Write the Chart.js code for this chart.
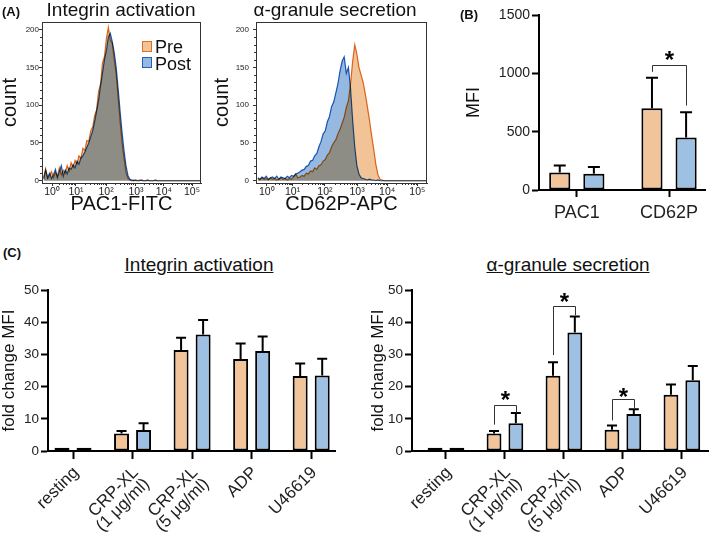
<!DOCTYPE html>
<html><head><meta charset="utf-8">
<script src="https://cdn.jsdelivr.net/npm/chart.js@4.4.1/dist/chart.umd.min.js"></script>
<style>
html,body{margin:0;padding:0;background:#fff;}
body{width:709px;height:535px;position:relative;overflow:hidden;font-family:"Liberation Sans",Arial,Helvetica,sans-serif;color:#111;}
canvas{position:absolute;}
.t{position:absolute;white-space:nowrap;line-height:1;}
.lbl{font-weight:bold;font-size:13px;}
.ttl{font-size:19px;text-align:center;}
.sw{position:absolute;width:8px;height:9px;border:1.5px solid;}
</style></head><body>
<canvas id="a1" width="230" height="214" style="left:0;top:0"></canvas>
<canvas id="a2" width="218" height="214" style="left:212px;top:0"></canvas>
<canvas id="b" width="244" height="225" style="left:465px;top:0"></canvas>
<canvas id="c1" width="340" height="255" style="left:0;top:280px"></canvas>
<canvas id="c2" width="339" height="255" style="left:370px;top:280px"></canvas>

<div class="t lbl" style="left:2px;top:5px">(A)</div>
<div class="t ttl" style="left:21px;width:200px;top:0">Integrin activation</div>
<div class="t ttl" style="left:235px;width:200px;top:0">α-granule secretion</div>
<div class="sw" style="left:142px;top:41px;background:#F2C397;border-color:#E07020"></div>
<div class="t" style="left:155px;top:38px;font-size:18px">Pre</div>
<div class="sw" style="left:142px;top:57px;background:#96B9E1;border-color:#1F5FBF"></div>
<div class="t" style="left:155px;top:55px;font-size:18px">Post</div>
<div class="t lbl" style="left:460px;top:8px">(B)</div>
<div class="t lbl" style="left:3px;top:246px">(C)</div>
<div class="t ttl" style="left:99px;width:200px;top:255px;text-decoration:underline">Integrin activation</div>
<div class="t ttl" style="left:468px;width:200px;top:255px;text-decoration:underline">α-granule secretion</div>

<script>
// ================= DATA =================
// Panel A: flow histograms (x = display position in decades, biexponential axis)
const histBins = [-0.30,-0.23,-0.16,-0.09,-0.02,0.05,0.12,0.19,0.26,0.33,0.40,0.47,0.54,0.61,0.68,0.75,0.82,0.89,0.96,1.03,
  1.10,1.17,1.24,1.31,1.38,1.45,1.52,1.59,1.66,1.73,1.80,1.87,1.94,2.01,2.08,2.15,2.22,2.29,2.36,2.43,
  2.50,2.57,2.64,2.71,2.78,2.85,2.92,2.99,3.06,3.13,3.20,3.27,3.34,3.41,3.48,3.55,3.62,3.69,3.76,3.83,3.90,4.60,5.30];
const pacPre = [4,16,3,7,12,4,11,6,17,8,14,10,20,13,
  24,18,27,22,33,30,43,40,53,52,66,71,86,94,118,128,
  156,164,188,203,186,182,160,141,110,78,50,30,11,3,1,
  0,1,0,0,1,0,0,0,0,0,0,0,0,0,0,0, 0,0];
const pacPost = [2,14,4,10,3,8,15,4,12,20,6,14,9,17,
  15,21,17,26,22,30,33,38,44,50,58,66,78,92,106,125,
  142,160,172,190,195,184,170,150,122,92,64,40,20,7,2,
  1,0,1,0,0,1,0,0,1,0,0,0,1,0,0,0, 0,0];
const cdPre = [3,1,4,2,3,1,4,2,3,1,2,4,2,3,1,3,2,5,9,
  4,5,7,6,10,9,13,12,17,15,20,21,26,28,34,37,45,
  50,54,62,68,76,84,97,106,128,158,180,168,150,140,130,
  115,98,80,60,42,22,8,2,1,0, 0,0];
const cdPost = [4,2,5,3,6,2,4,5,3,6,2,5,4,3,6,4,7,6,9,
  10,12,14,15,19,20,26,27,33,36,45,52,62,66,78,85,98,
  104,116,128,145,158,164,142,150,122,80,45,20,9,4,3,
  2,1,2,1,1,0,1,0,0,0, 0,0];
const decadePos = [0, 0.854, 1.93, 2.997, 3.997, 5.0];
const decadeLabels = ['10⁰','10¹','10²','10³','10⁴','10⁵'];
const countTicks = [0, 50, 100, 150, 200];

// Panel B: MFI
const bCategories = ['PAC1', 'CD62P'];
const bPre = [150, 700];
const bPreErr = [209, 962];
const bPost = [140, 450];
const bPostErr = [198, 667];
const bSigCats = [1];
const bSigLeft = [1013];
const bSigTop = [1075];
const bSigRight = [724];
const bSigStar = [1155];

// Panel C: fold change MFI
const cCategories = [['resting'], ['CRP-XL', '(1 μg/ml)'], ['CRP-XL', '(5 μg/ml)'], ['ADP'], ['U46619']];
const c1Pre = [1, 5.4, 31.4, 28.6, 23.3];
const c1PreErr = [null, 6.2, 35.2, 33.4, 27.2];
const c1Post = [1, 6.5, 36.2, 31.1, 23.5];
const c1PostErr = [null, 8.6, 40.7, 35.6, 28.7];
const c2Pre = [1, 5.4, 23.4, 6.6, 17.5];
const c2PreErr = [null, 6.2, 27.6, 7.9, 20.7];
const c2Post = [1, 8.6, 36.8, 11.5, 22.0];
const c2PostErr = [null, 11.8, 41.8, 13.0, 26.4];
const c2SigCats = [1, 2, 3];
const c2SigLeft = [8.2, 29.8, 9.5];
const c2SigTop = [14.3, 45.2, 16.3];
const c2SigRight = [11.9, 42.2, 13.4];
const c2SigStar = [17.1, 47.6, 18.3];

// ================= STYLE =================
const FONT = '"Liberation Sans", Arial, Helvetica, sans-serif';
Chart.defaults.font.family = FONT;
Chart.defaults.color = '#222';
const ORANGE_LINE = '#E07020', BLUE_LINE = '#1F5FBF';
const ORANGE_FILL = '#F2C397', BLUE_FILL = '#96B9E1';
const BAR_ORANGE = '#F1C499', BAR_BLUE = '#9DC0E3';

const multiplyPlugin = {
  id: 'mult',
  beforeDatasetsDraw(c) { c.ctx.save(); c.ctx.globalCompositeOperation = 'multiply'; },
  afterDatasetsDraw(c) { c.ctx.restore(); }
};
const framePlugin = {
  id: 'frame',
  afterDatasetsDraw(c) {
    const {ctx, chartArea: a, scales} = c;
    ctx.save();
    ctx.strokeStyle = '#333'; ctx.lineWidth = 1;
    ctx.strokeRect(a.left + 0.5, a.top + 0.5, a.right - a.left - 1, a.bottom - a.top);
    ctx.beginPath();
    for (let v = 10; v <= 200; v += 10) {
      if (v % 50 === 0) continue;
      const y = Math.round(scales.y.getPixelForValue(v)) + 0.5;
      ctx.moveTo(a.left, y); ctx.lineTo(a.left - 2, y);
    }
    for (let k = 0; k < decadePos.length - 1; k++) {
      for (let m = 2; m <= 9; m++) {
        const p = decadePos[k] + Math.log10(m) * (decadePos[k + 1] - decadePos[k]);
        const x = Math.round(scales.x.getPixelForValue(p)) + 0.5;
        ctx.moveTo(x, a.bottom); ctx.lineTo(x, a.bottom + 2);
      }
    }
    ctx.stroke();
    ctx.restore();
  }
};

function histChart(id, pre, post, xTitle, yWidth, padRight, tickPad) {
  return new Chart(document.getElementById(id), {
    type: 'line',
    data: {
      datasets: [
        { label: 'Pre', data: histBins.map((b, i) => ({x: b, y: pre[i]})), borderColor: ORANGE_LINE,
          backgroundColor: ORANGE_FILL, fill: 'origin', borderWidth: 1.2, pointRadius: 0, tension: 0 },
        { label: 'Post', data: histBins.map((b, i) => ({x: b, y: post[i]})), borderColor: BLUE_LINE,
          backgroundColor: BLUE_FILL, fill: 'origin', borderWidth: 1.2, pointRadius: 0, tension: 0 }
      ]
    },
    options: {
      responsive: false, animation: false, events: [],
      layout: { padding: { left: 0, top: 22, right: padRight, bottom: 0 } },
      plugins: { legend: { display: false }, title: { display: false }, tooltip: { enabled: false } },
      scales: {
        x: {
          type: 'linear', min: -0.36, max: 5.32,
          afterBuildTicks: s => { s.ticks = decadePos.map(v => ({value: v})); },
          afterFit: s => { s.height = 31; },
          ticks: { callback: (v, i) => decadeLabels[i], font: { size: 10.5 }, color: '#222', padding: 0, maxRotation: 0, autoSkip: false },
          grid: { display: true, drawOnChartArea: false, tickLength: 3, tickColor: '#333' },
          border: { display: true, color: '#333', width: 1 },
          title: { display: true, text: xTitle, font: { size: 20, lineHeight: 1 }, color: '#111', padding: 0 }
        },
        y: {
          min: -3, max: 210,
          afterBuildTicks: s => { s.ticks = countTicks.map(v => ({value: v})); },
          afterFit: s => { s.width = yWidth; },
          ticks: { font: { size: 8 }, color: '#222', padding: tickPad },
          grid: { display: true, drawOnChartArea: false, tickLength: 3, tickColor: '#333' },
          border: { display: true, color: '#333', width: 1 },
          title: { display: true, text: 'count', font: { size: 20, lineHeight: 1 }, color: '#111', padding: 0 }
        }
      }
    },
    plugins: [multiplyPlugin, framePlugin]
  });
}

histChart('a1', pacPre, pacPost, 'PAC1-FITC', 42, 29, 0);
histChart('a2', cdPre, cdPost, 'CD62P-APC', 44, 3, 4);

// ---------- Bar charts ----------
const errPlugin = {
  id: 'err',
  afterDatasetsDraw(chart, args, opts) {
    const {ctx} = chart;
    const y = chart.scales.y;
    ctx.save();
    ctx.strokeStyle = '#000'; ctx.lineWidth = opts.lw; ctx.lineCap = 'butt';
    chart.data.datasets.forEach((ds, di) => {
      const meta = chart.getDatasetMeta(di);
      ds.errTop.forEach((e, j) => {
        if (e == null) return;
        const bar = meta.data[j];
        const yT = y.getPixelForValue(e);
        ctx.beginPath();
        ctx.moveTo(bar.x, bar.y); ctx.lineTo(bar.x, yT);
        ctx.moveTo(bar.x - opts.cap / 2, yT); ctx.lineTo(bar.x + opts.cap / 2, yT);
        ctx.stroke();
      });
    });
    ctx.restore();
    const sig = opts.sig;
    if (!sig) return;
    const m0 = chart.getDatasetMeta(0), m1 = chart.getDatasetMeta(1);
    ctx.save();
    ctx.strokeStyle = '#333'; ctx.lineWidth = 1;
    ctx.fillStyle = '#000';
    ctx.font = 'bold ' + opts.star + 'px ' + FONT;
    ctx.textAlign = 'center'; ctx.textBaseline = 'alphabetic';
    const mt = ctx.measureText('*');
    sig.cats.forEach((cat, k) => {
      const xl = Math.round(m0.data[cat].x) + 0.5, xr = Math.round(m1.data[cat].x) + 0.5;
      const yt = Math.round(y.getPixelForValue(sig.top[k])) + 0.5;
      ctx.beginPath();
      ctx.moveTo(xl, y.getPixelForValue(sig.left[k])); ctx.lineTo(xl, yt);
      ctx.lineTo(xr, yt); ctx.lineTo(xr, y.getPixelForValue(sig.right[k]));
      ctx.stroke();
      const cy = y.getPixelForValue(sig.star[k]);
      const base = cy - (mt.actualBoundingBoxDescent - mt.actualBoundingBoxAscent) / 2;
      ctx.fillText('*', (xl + xr) / 2, base);
    });
    ctx.restore();
  }
};

// rotated category labels positioned from the x scale
const rotLabelPlugin = {
  id: 'rotlab',
  afterDraw(chart, args, opts) {
    if (!opts.on) return;
    const {ctx} = chart;
    const xs = chart.scales.x;
    const axisY = chart.chartArea.bottom;
    ctx.save();
    ctx.font = opts.size + 'px ' + FONT;
    ctx.fillStyle = '#222';
    ctx.textAlign = 'right'; ctx.textBaseline = 'middle';
    cCategories.forEach((lines, i) => {
      const x0 = xs.getPixelForValue(i) + opts.dx, y0 = axisY + opts.dy;
      lines.forEach((ln, k) => {
        ctx.save();
        ctx.translate(x0 + k * opts.lh * 0.7071, y0 + k * opts.lh * 0.7071);
        ctx.rotate(-Math.PI / 4);
        ctx.fillText(ln, 0, 0);
        ctx.restore();
      });
    });
    ctx.restore();
  }
};

function barChart(id, cats, pre, preErr, post, postErr, cfg) {
  return new Chart(document.getElementById(id), {
    type: 'bar',
    data: {
      datasets: [
        { label: 'Pre', data: pre.map((v, i) => ({x: i, y: v})), errTop: preErr, backgroundColor: BAR_ORANGE,
          borderColor: '#000', borderWidth: 2, borderSkipped: false },
        { label: 'Post', data: post.map((v, i) => ({x: i, y: v})), errTop: postErr, backgroundColor: BAR_BLUE,
          borderColor: '#000', borderWidth: 2, borderSkipped: false }
      ]
    },
    options: {
      responsive: false, animation: false, events: [],
      categoryPercentage: 0.74, barPercentage: cfg.barPct,
      layout: { padding: cfg.pad },
      plugins: { legend: { display: false }, title: { display: false }, tooltip: { enabled: false },
        err: { lw: 2, cap: cfg.cap, sig: cfg.sig, star: cfg.star },
        rotlab: { on: cfg.rot, size: 17, dx: 3, dy: 19, lh: 16 } },
      scales: {
        x: {
          type: 'linear', min: cfg.xmin, max: cfg.xmax, offset: false,
          afterBuildTicks: s => { s.ticks = cats.map((c, i) => ({value: i})); },
          afterFit: s => { s.height = cfg.xh; },
          ticks: { display: !cfg.rot, callback: v => cats[v],
            font: { size: cfg.xfont }, color: '#222', padding: cfg.xpad, maxRotation: 0, autoSkip: false },
          grid: { display: true, drawOnChartArea: false, offset: false, tickLength: cfg.xtick, tickColor: '#000', tickWidth: 2 },
          border: { display: true, color: '#000', width: 2 }
        },
        y: {
          min: 0, max: cfg.ymax,
          afterFit: s => { s.width = cfg.yw; },
          ticks: { stepSize: cfg.ystep, font: { size: cfg.yfont }, color: '#222', padding: 2, callback: v => String(v) },
          grid: { display: true, drawOnChartArea: false, tickLength: 7, tickColor: '#000', tickWidth: 2 },
          border: { display: true, color: '#000', width: 2 },
          title: { display: true, text: cfg.ytitle, font: { size: cfg.ytfont, lineHeight: 1 }, color: '#111', padding: 0 }
        }
      }
    },
    plugins: [errPlugin, rotLabelPlugin]
  });
}

barChart('b', bCategories, bPre, bPreErr, bPost, bPostErr, {
  pad: { left: 0, top: 15, right: 4, bottom: 0 }, xmin: -0.41, xmax: 1.39, xh: 35, yw: 74,
  barPct: 0.62, cap: 12, xfont: 18, xpad: 5, rot: false, xtick: 7, ymax: 1500, ystep: 500, yfont: 14,
  ytitle: 'MFI', ytfont: 18, star: 24,
  sig: { cats: bSigCats, left: bSigLeft, top: bSigTop, right: bSigRight, star: bSigStar }
});

barChart('c1', cCategories, c1Pre, c1PreErr, c1Post, c1PostErr, {
  pad: { left: 1, top: 7, right: 5, bottom: 0 }, xmin: -0.42, xmax: 4.40, xh: 84, yw: 47,
  barPct: 0.68, cap: 10, xfont: 16, xpad: 3, rot: true, xtick: 8, ymax: 50, ystep: 10, yfont: 13.5,
  ytitle: 'fold change MFI', ytfont: 17, star: 24, sig: null
});

barChart('c2', cCategories, c2Pre, c2PreErr, c2Post, c2PostErr, {
  pad: { left: 0, top: 7, right: 0, bottom: 0 }, xmin: -0.576, xmax: 4.46, xh: 84, yw: 42,
  barPct: 0.68, cap: 10, xfont: 16, xpad: 3, rot: true, xtick: 8, ymax: 50, ystep: 10, yfont: 13.5,
  ytitle: 'fold change MFI', ytfont: 17, star: 24,
  sig: { cats: c2SigCats, left: c2SigLeft, top: c2SigTop, right: c2SigRight, star: c2SigStar }
});
</script>
</body></html>
